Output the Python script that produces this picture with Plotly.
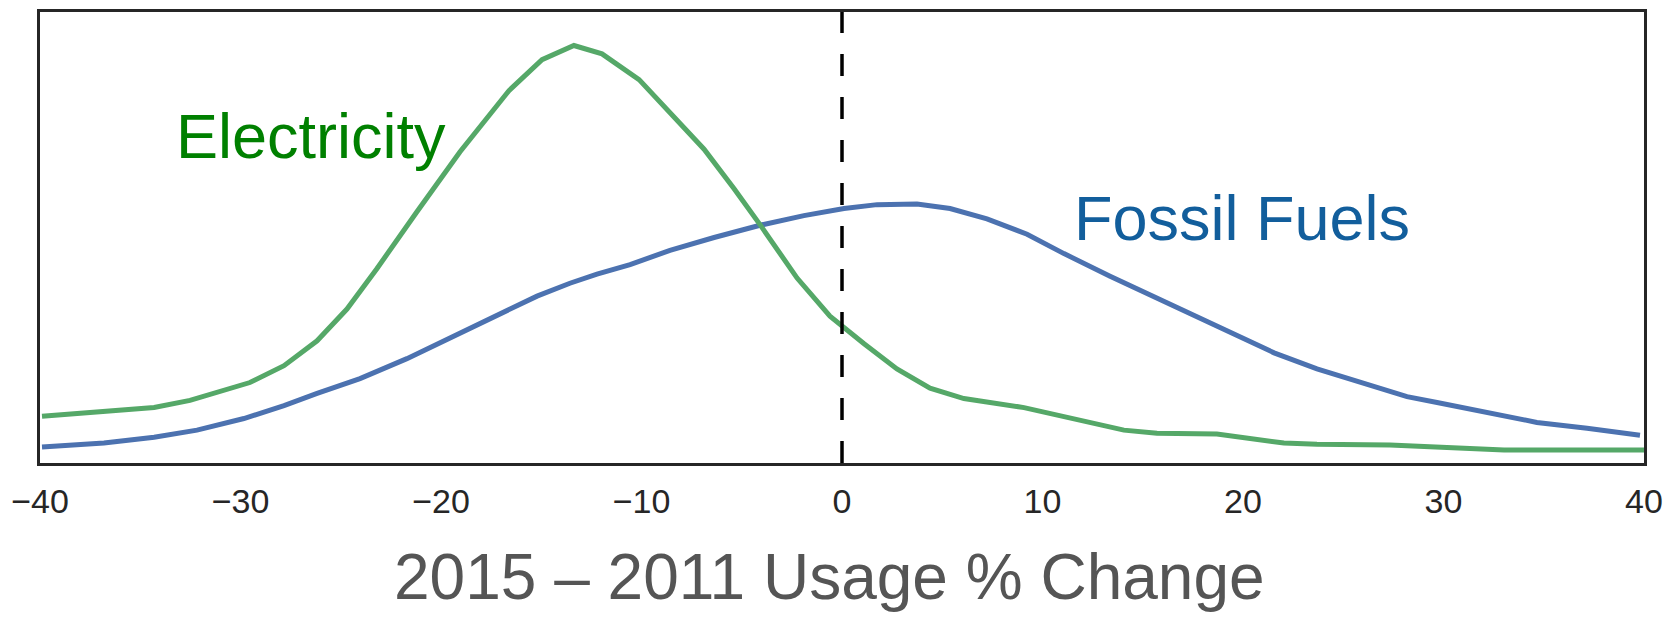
import plotly.graph_objects as go

# Electricity KDE (x = % change, y = density)
elec_x = [-39.9, -36.16, -34.31, -32.52, -29.53, -27.83, -26.18, -24.69, -23.19, -21.20,
          -19.05, -16.61, -14.96, -13.37, -11.97, -10.12, -8.58, -6.88, -5.39, -4.09,
          -2.24, -0.60, 1.10, 2.74, 4.39, 6.08, 9.08, 10.87, 12.37, 14.06,
          15.71, 18.70, 22.04, 23.69, 27.33, 29.68, 33.02, 37.16, 40.0]
elec_y = [0.00725, 0.00817, 0.00863, 0.00971, 0.01249, 0.01511, 0.01897, 0.0239, 0.0302, 0.0390,
          0.0483, 0.0578, 0.0626, 0.0648, 0.0635, 0.0595, 0.0544, 0.0487, 0.0426, 0.0370,
          0.0287, 0.0228, 0.0185, 0.0146, 0.0116, 0.0100, 0.0086, 0.0074, 0.0062, 0.0051,
          0.0046, 0.0045, 0.0031, 0.0029, 0.0028, 0.0025, 0.0020, 0.0020, 0.0020]

# Fossil fuels KDE
fossil_x = [-39.9, -36.81, -34.31, -32.17, -29.83, -27.83, -26.18, -24.04, -21.70, -19.20,
            -17.36, -15.21, -13.57, -12.22, -10.57, -8.58, -6.38, -4.09, -1.90, 0.10,
            1.75, 3.74, 5.39, 7.23, 9.23, 11.07, 13.37, 15.71, 17.36, 19.35,
            21.55, 23.69, 26.03, 28.18, 29.68, 32.17, 34.66, 37.16, 39.80]
fossil_y = [0.0025, 0.0031, 0.0040, 0.0051, 0.0069, 0.0089, 0.0108, 0.0131, 0.0162, 0.0200,
            0.0228, 0.0259, 0.0279, 0.0293, 0.0308, 0.0330, 0.0350, 0.0369, 0.0384, 0.0395,
            0.0401, 0.0402, 0.0395, 0.0379, 0.0355, 0.0325, 0.0290, 0.0256, 0.0233, 0.0202,
            0.0171, 0.0146, 0.0123, 0.0103, 0.0094, 0.0079, 0.0063, 0.0054, 0.0043]

tick_vals = [-40, -30, -20, -10, 0, 10, 20, 30, 40]
x_title = "2015 – 2011 Usage % Change"
labels = ["Electricity", "Fossil Fuels"]

FONT = "Liberation Sans, Arial, Helvetica, sans-serif"

fig = go.Figure()
fig.add_trace(go.Scatter(x=fossil_x, y=fossil_y, mode="lines",
                         line=dict(color="#4C72B0", width=5), showlegend=False))
fig.add_trace(go.Scatter(x=elec_x, y=elec_y, mode="lines",
                         line=dict(color="#55A868", width=5), showlegend=False))

fig.add_shape(type="line", xref="x", yref="paper", x0=0, x1=0, y0=0, y1=1,
              line=dict(color="black", width=3.5, dash="22px,21px"), layer="above")

fig.add_annotation(x=-26.5, y=0.0507, text=labels[0], showarrow=False,
                   font=dict(family=FONT, size=63, color="#008000"),
                   xanchor="center", yanchor="middle")
fig.add_annotation(x=19.95, y=0.0381, text=labels[1], showarrow=False,
                   font=dict(family=FONT, size=63, color="#125E9C"),
                   xanchor="center", yanchor="middle")
fig.add_annotation(x=0.4925, y=-0.2533, xref="paper", yref="paper", text=x_title,
                   showarrow=False, font=dict(family=FONT, size=64, color="#555555"),
                   xanchor="center", yanchor="middle")

fig.update_layout(
    width=1677, height=617,
    margin=dict(l=40, r=33, t=9, b=154),
    paper_bgcolor="white", plot_bgcolor="white",
    font=dict(family=FONT),
)
fig.update_xaxes(range=[-40, 40], tickvals=tick_vals, showgrid=False, zeroline=False,
                 showline=True, mirror=True, linecolor="#262626", linewidth=3,
                 ticks="outside", ticklen=6, tickcolor="rgba(0,0,0,0)",
                 tickfont=dict(family=FONT, size=34, color="#262626"))
fig.update_yaxes(range=[0, 0.07], showticklabels=False, showgrid=False, zeroline=False,
                 showline=True, mirror=True, linecolor="#262626", linewidth=3, ticks="")

fig.write_html("out.html", config={"displayModeBar": False},
               post_script="document.body.style.margin='0px';document.body.style.overflow='hidden';")
